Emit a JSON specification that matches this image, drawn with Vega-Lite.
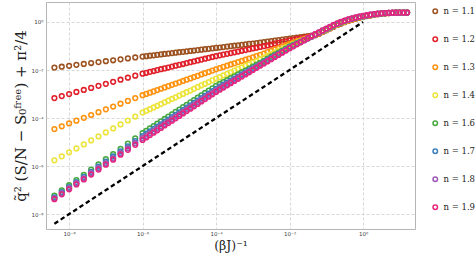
{
"$schema": "https://vega.github.io/schema/vega-lite/v6.json",
"width": 369, "height": 227,
"autosize": {"type": "none"},
"padding": {"left": 46, "top": 2, "right": 61, "bottom": 29},
"background": "white",
"config": {"view": {"stroke": "#b5b5b5", "strokeWidth": 1}},
"layer": [
{"data": {"values": [
{"x":3.98e-9,"n11":1.26e-2,"n12":6.76e-4,"n13":3.47e-5,"n14":1.74e-6,"n16":5.89e-8,"n17":5.01e-8,"n18":4.57e-8,"n19":4.17e-8},
{"x":6.31e-9,"n11":1.37e-2,"n12":8.22e-4,"n13":4.54e-5,"n14":2.55e-6,"n16":9.71e-8,"n17":8.17e-8,"n18":7.38e-8,"n19":6.70e-8},
{"x":1e-8,"n11":1.50e-2,"n12":1.00e-3,"n13":5.96e-5,"n14":3.73e-6,"n16":1.60e-7,"n17":1.33e-7,"n18":1.19e-7,"n19":1.08e-7},
{"x":1.58e-8,"n11":1.64e-2,"n12":1.22e-3,"n13":7.80e-5,"n14":5.46e-6,"n16":2.63e-7,"n17":2.17e-7,"n18":1.93e-7,"n19":1.73e-7},
{"x":2.51e-8,"n11":1.79e-2,"n12":1.48e-3,"n13":1.02e-4,"n14":8.00e-6,"n16":4.34e-7,"n17":3.55e-7,"n18":3.11e-7,"n19":2.77e-7},
{"x":3.98e-8,"n11":1.96e-2,"n12":1.80e-3,"n13":1.34e-4,"n14":1.17e-5,"n16":7.13e-7,"n17":5.78e-7,"n18":5.04e-7,"n19":4.46e-7},
{"x":6.31e-8,"n11":2.14e-2,"n12":2.19e-3,"n13":1.76e-4,"n14":1.72e-5,"n16":1.18e-6,"n17":9.44e-7,"n18":8.13e-7,"n19":7.16e-7},
{"x":1e-7,"n11":2.33e-2,"n12":2.66e-3,"n13":2.30e-4,"n14":2.52e-5,"n16":1.94e-6,"n17":1.54e-6,"n18":1.31e-6,"n19":1.15e-6},
{"x":1.58e-7,"n11":2.55e-2,"n12":3.24e-3,"n13":3.02e-4,"n14":3.69e-5,"n16":3.18e-6,"n17":2.51e-6,"n18":2.12e-6,"n19":1.85e-6},
{"x":2.51e-7,"n11":2.79e-2,"n12":3.94e-3,"n13":3.95e-4,"n14":5.40e-5,"n16":5.25e-6,"n17":4.09e-6,"n18":3.43e-6,"n19":2.97e-6},
{"x":3.98e-7,"n11":3.04e-2,"n12":4.79e-3,"n13":5.19e-4,"n14":7.91e-5,"n16":8.65e-6,"n17":6.68e-6,"n18":5.53e-6,"n19":4.76e-6},
{"x":6.31e-7,"n11":3.33e-2,"n12":5.82e-3,"n13":6.79e-4,"n14":1.16e-4,"n16":1.42e-5,"n17":1.09e-5,"n18":8.95e-6,"n19":7.66e-6},
{"x":1e-6,"n11":3.63e-2,"n12":7.08e-3,"n13":8.91e-4,"n14":1.70e-4,"n16":2.34e-5,"n17":1.78e-5,"n18":1.45e-5,"n19":1.23e-5},
{"x":1.26e-6,"n11":3.78e-2,"n12":7.69e-3,"n13":1.01e-3,"n14":2.00e-4,"n16":2.94e-5,"n17":2.23e-5,"n18":1.82e-5,"n19":1.55e-5},
{"x":1.58e-6,"n11":3.94e-2,"n12":8.38e-3,"n13":1.14e-3,"n14":2.35e-4,"n16":3.69e-5,"n17":2.80e-5,"n18":2.29e-5,"n19":1.95e-5},
{"x":2e-6,"n11":4.11e-2,"n12":9.10e-3,"n13":1.29e-3,"n14":2.76e-4,"n16":4.62e-5,"n17":3.51e-5,"n18":2.87e-5,"n19":2.46e-5},
{"x":2.51e-6,"n11":4.29e-2,"n12":9.91e-3,"n13":1.47e-3,"n14":3.25e-4,"n16":5.81e-5,"n17":4.41e-5,"n18":3.61e-5,"n19":3.09e-5},
{"x":3.16e-6,"n11":4.47e-2,"n12":1.08e-2,"n13":1.66e-3,"n14":3.82e-4,"n16":7.28e-5,"n17":5.52e-5,"n18":4.54e-5,"n19":3.89e-5},
{"x":3.98e-6,"n11":4.66e-2,"n12":1.17e-2,"n13":1.88e-3,"n14":4.50e-4,"n16":9.14e-5,"n17":6.93e-5,"n18":5.72e-5,"n19":4.90e-5},
{"x":5.01e-6,"n11":4.85e-2,"n12":1.27e-2,"n13":2.13e-3,"n14":5.28e-4,"n16":1.15e-4,"n17":8.69e-5,"n18":7.18e-5,"n19":6.17e-5},
{"x":6.31e-6,"n11":5.06e-2,"n12":1.39e-2,"n13":2.41e-3,"n14":6.22e-4,"n16":1.44e-4,"n17":1.09e-4,"n18":9.04e-5,"n19":7.76e-5},
{"x":7.94e-6,"n11":5.27e-2,"n12":1.51e-2,"n13":2.73e-3,"n14":7.31e-4,"n16":1.80e-4,"n17":1.37e-4,"n18":1.14e-4,"n19":9.77e-5},
{"x":1e-5,"n11":5.50e-2,"n12":1.64e-2,"n13":3.09e-3,"n14":8.61e-4,"n16":2.27e-4,"n17":1.72e-4,"n18":1.43e-4,"n19":1.23e-4},
{"x":1.26e-5,"n11":5.73e-2,"n12":1.78e-2,"n13":3.50e-3,"n14":1.01e-3,"n16":2.84e-4,"n17":2.15e-4,"n18":1.80e-4,"n19":1.55e-4},
{"x":1.58e-5,"n11":5.97e-2,"n12":1.94e-2,"n13":3.96e-3,"n14":1.19e-3,"n16":3.57e-4,"n17":2.70e-4,"n18":2.26e-4,"n19":1.95e-4},
{"x":2e-5,"n11":6.22e-2,"n12":2.11e-2,"n13":4.49e-3,"n14":1.40e-3,"n16":4.47e-4,"n17":3.39e-4,"n18":2.84e-4,"n19":2.46e-4},
{"x":2.51e-5,"n11":6.49e-2,"n12":2.30e-2,"n13":5.08e-3,"n14":1.65e-3,"n16":5.61e-4,"n17":4.26e-4,"n18":3.57e-4,"n19":3.09e-4},
{"x":3.16e-5,"n11":6.76e-2,"n12":2.50e-2,"n13":5.75e-3,"n14":1.94e-3,"n16":7.03e-4,"n17":5.33e-4,"n18":4.49e-4,"n19":3.89e-4},
{"x":3.98e-5,"n11":7.05e-2,"n12":2.72e-2,"n13":6.52e-3,"n14":2.28e-3,"n16":8.83e-4,"n17":6.70e-4,"n18":5.65e-4,"n19":4.90e-4},
{"x":5.01e-5,"n11":7.35e-2,"n12":2.95e-2,"n13":7.38e-3,"n14":2.68e-3,"n16":1.11e-3,"n17":8.40e-4,"n18":7.10e-4,"n19":6.17e-4},
{"x":6.31e-5,"n11":7.66e-2,"n12":3.21e-2,"n13":8.36e-3,"n14":3.16e-3,"n16":1.39e-3,"n17":1.05e-3,"n18":8.93e-4,"n19":7.76e-4},
{"x":7.94e-5,"n11":7.98e-2,"n12":3.49e-2,"n13":9.46e-3,"n14":3.71e-3,"n16":1.74e-3,"n17":1.32e-3,"n18":1.12e-3,"n19":9.77e-4},
{"x":1e-4,"n11":8.32e-2,"n12":3.80e-2,"n13":1.07e-2,"n14":4.37e-3,"n16":2.19e-3,"n17":1.66e-3,"n18":1.41e-3,"n19":1.23e-3},
{"x":1.26e-4,"n11":8.67e-2,"n12":4.09e-2,"n13":1.20e-2,"n14":5.09e-3,"n16":2.63e-3,"n17":2.02e-3,"n18":1.73e-3,"n19":1.52e-3},
{"x":1.58e-4,"n11":9.06e-2,"n12":4.40e-2,"n13":1.35e-2,"n14":5.93e-3,"n16":3.16e-3,"n17":2.46e-3,"n18":2.12e-3,"n19":1.87e-3},
{"x":2e-4,"n11":9.44e-2,"n12":4.73e-2,"n13":1.51e-2,"n14":6.92e-3,"n16":3.80e-3,"n17":2.99e-3,"n18":2.60e-3,"n19":2.30e-3},
{"x":2.51e-4,"n11":9.84e-2,"n12":5.09e-2,"n13":1.70e-2,"n14":8.07e-3,"n16":4.57e-3,"n17":3.63e-3,"n18":3.18e-3,"n19":2.84e-3},
{"x":3.16e-4,"n11":0.103,"n12":5.47e-2,"n13":1.91e-2,"n14":9.40e-3,"n16":5.50e-3,"n17":4.42e-3,"n18":3.91e-3,"n19":3.50e-3},
{"x":3.98e-4,"n11":0.107,"n12":5.89e-2,"n13":2.14e-2,"n14":1.10e-2,"n16":6.61e-3,"n17":5.37e-3,"n18":4.79e-3,"n19":4.32e-3},
{"x":5.01e-4,"n11":0.112,"n12":6.34e-2,"n13":2.40e-2,"n14":1.28e-2,"n16":7.94e-3,"n17":6.53e-3,"n18":5.86e-3,"n19":5.32e-3},
{"x":6.31e-4,"n11":0.117,"n12":6.81e-2,"n13":2.69e-2,"n14":1.49e-2,"n16":9.55e-3,"n17":7.94e-3,"n18":7.19e-3,"n19":6.56e-3},
{"x":7.94e-4,"n11":0.122,"n12":7.33e-2,"n13":3.02e-2,"n14":1.74e-2,"n16":1.15e-2,"n17":9.66e-3,"n18":8.81e-3,"n19":8.07e-3},
{"x":1e-3,"n11":0.127,"n12":7.89e-2,"n13":3.39e-2,"n14":2.03e-2,"n16":1.38e-2,"n17":1.18e-2,"n18":1.08e-2,"n19":9.95e-3},
{"x":1.26e-3,"n11":0.132,"n12":8.47e-2,"n13":3.80e-2,"n14":2.36e-2,"n16":1.66e-2,"n17":1.43e-2,"n18":1.32e-2,"n19":1.23e-2},
{"x":1.58e-3,"n11":0.138,"n12":9.12e-2,"n13":4.27e-2,"n14":2.75e-2,"n16":2.00e-2,"n17":1.74e-2,"n18":1.62e-2,"n19":1.51e-2},
{"x":2e-3,"n11":0.145,"n12":9.86e-2,"n13":4.86e-2,"n14":3.25e-2,"n16":2.43e-2,"n17":2.12e-2,"n18":1.99e-2,"n19":1.86e-2},
{"x":2.51e-3,"n11":0.152,"n12":0.106,"n13":5.56e-2,"n14":3.85e-2,"n16":2.95e-2,"n17":2.60e-2,"n18":2.44e-2,"n19":2.29e-2},
{"x":3.16e-3,"n11":0.160,"n12":0.115,"n13":6.34e-2,"n14":4.54e-2,"n16":3.59e-2,"n17":3.18e-2,"n18":2.99e-2,"n19":2.82e-2},
{"x":3.98e-3,"n11":0.168,"n12":0.125,"n13":7.24e-2,"n14":5.37e-2,"n16":4.37e-2,"n17":3.89e-2,"n18":3.67e-2,"n19":3.47e-2},
{"x":5.01e-3,"n11":0.176,"n12":0.135,"n13":8.26e-2,"n14":6.34e-2,"n16":5.31e-2,"n17":4.75e-2,"n18":4.51e-2,"n19":4.27e-2},
{"x":6.31e-3,"n11":0.185,"n12":0.145,"n13":9.44e-2,"n14":7.50e-2,"n16":6.46e-2,"n17":5.82e-2,"n18":5.52e-2,"n19":5.25e-2},
{"x":7.94e-3,"n11":0.195,"n12":0.157,"n13":0.108,"n14":8.85e-2,"n16":7.85e-2,"n17":7.11e-2,"n18":6.78e-2,"n19":6.46e-2},
{"x":1e-2,"n11":0.204,"n12":0.170,"n13":0.123,"n14":0.105,"n16":9.55e-2,"n17":8.71e-2,"n18":8.32e-2,"n19":7.94e-2},
{"x":1.26e-2,"n11":0.214,"n12":0.182,"n13":0.139,"n14":0.121,"n16":0.112,"n17":0.104,"n18":0.100,"n19":9.66e-2},
{"x":1.58e-2,"n11":0.224,"n12":0.196,"n13":0.156,"n14":0.139,"n16":0.131,"n17":0.124,"n18":0.120,"n19":0.118},
{"x":2e-2,"n11":0.234,"n12":0.210,"n13":0.176,"n14":0.160,"n16":0.153,"n17":0.147,"n18":0.145,"n19":0.143},
{"x":2.51e-2,"n11":0.246,"n12":0.225,"n13":0.198,"n14":0.185,"n16":0.179,"n17":0.175,"n18":0.174,"n19":0.174},
{"x":3.16e-2,"n11":0.257,"n12":0.242,"n13":0.223,"n14":0.213,"n16":0.210,"n17":0.208,"n18":0.209,"n19":0.211},
{"x":3.98e-2,"n11":0.269,"n12":0.260,"n13":0.251,"n14":0.246,"n16":0.246,"n17":0.248,"n18":0.251,"n19":0.257},
{"x":5.01e-2,"n11":0.282,"n12":0.286,"n13":0.290,"n14":0.294,"n16":0.298,"n17":0.301,"n18":0.306,"n19":0.309},
{"x":6.31e-2,"n11":0.324,"n12":0.330,"n13":0.337,"n14":0.344,"n16":0.352,"n17":0.358,"n18":0.365,"n19":0.372},
{"x":7.94e-2,"n11":0.380,"n12":0.389,"n13":0.399,"n14":0.408,"n16":0.419,"n17":0.428,"n18":0.438,"n19":0.447},
{"x":0.1,"n11":0.452,"n12":0.462,"n13":0.474,"n14":0.485,"n16":0.498,"n17":0.508,"n18":0.520,"n19":0.531},
{"x":0.126,"n11":0.537,"n12":0.550,"n13":0.564,"n14":0.577,"n16":0.592,"n17":0.604,"n18":0.618,"n19":0.631},
{"x":0.158,"n11":0.638,"n12":0.653,"n13":0.670,"n14":0.686,"n16":0.703,"n17":0.718,"n18":0.735,"n19":0.750},
{"x":0.2,"n11":0.750,"n12":0.767,"n13":0.787,"n14":0.805,"n16":0.826,"n17":0.843,"n18":0.863,"n19":0.881},
{"x":0.251,"n11":0.861,"n12":0.881,"n13":0.904,"n14":0.925,"n16":0.948,"n17":0.968,"n18":0.991,"n19":1.012},
{"x":0.316,"n11":0.982,"n12":1.005,"n13":1.028,"n14":1.054,"n16":1.079,"n17":1.102,"n18":1.125,"n19":1.148},
{"x":0.398,"n11":1.109,"n12":1.135,"n13":1.161,"n14":1.186,"n16":1.213,"n17":1.239,"n18":1.265,"n19":1.288},
{"x":0.501,"n11":1.230,"n12":1.256,"n13":1.282,"n14":1.309,"n16":1.337,"n17":1.361,"n18":1.387,"n19":1.413},
{"x":0.631,"n11":1.365,"n12":1.390,"n13":1.419,"n14":1.445,"n16":1.472,"n17":1.496,"n18":1.524,"n19":1.549},
{"x":0.794,"n11":1.496,"n12":1.524,"n13":1.549,"n14":1.578,"n16":1.603,"n17":1.629,"n18":1.656,"n19":1.679},
{"x":1,"n11":1.622,"n12":1.648,"n13":1.675,"n14":1.698,"n16":1.726,"n17":1.750,"n18":1.774,"n19":1.799},
{"x":1.26,"n11":1.758,"n12":1.782,"n13":1.807,"n14":1.832,"n16":1.858,"n17":1.879,"n18":1.905,"n19":1.928},
{"x":1.58,"n11":1.884,"n12":1.905,"n13":1.932,"n14":1.954,"n16":1.977,"n17":2.000,"n18":2.023,"n19":2.042},
{"x":2,"n11":1.995,"n12":2.018,"n13":2.037,"n14":2.061,"n16":2.080,"n17":2.099,"n18":2.118,"n19":2.138},
{"x":2.51,"n11":2.109,"n12":2.128,"n13":2.143,"n14":2.163,"n16":2.178,"n17":2.198,"n18":2.213,"n19":2.228},
{"x":3.16,"n11":2.208,"n12":2.223,"n13":2.234,"n14":2.249,"n16":2.265,"n17":2.275,"n18":2.291,"n19":2.301},
{"x":3.98,"n11":2.286,"n12":2.296,"n13":2.307,"n14":2.317,"n16":2.328,"n17":2.339,"n18":2.344,"n19":2.355},
{"x":5.01,"n11":2.355,"n12":2.360,"n13":2.366,"n14":2.377,"n16":2.382,"n17":2.388,"n18":2.393,"n19":2.399},
{"x":6.31,"n11":2.404,"n12":2.410,"n13":2.415,"n14":2.415,"n16":2.421,"n17":2.427,"n18":2.432,"n19":2.432},
{"x":7.94,"n11":2.438,"n12":2.438,"n13":2.443,"n14":2.443,"n16":2.443,"n17":2.449,"n18":2.449,"n19":2.449},
{"x":10,"n11":2.460,"n12":2.460,"n13":2.460,"n14":2.460,"n16":2.460,"n17":2.460,"n18":2.460,"n19":2.460},
{"x":12.6,"n11":2.466,"n12":2.466,"n13":2.466,"n14":2.466,"n16":2.466,"n17":2.466,"n18":2.466,"n19":2.466},
{"x":15.8,"n11":2.466,"n12":2.466,"n13":2.466,"n14":2.466,"n16":2.466,"n17":2.466,"n18":2.466,"n19":2.466}
]},
"transform": [{"fold": ["n11","n12","n13","n14","n16","n17","n18","n19"], "as": ["series","val"]}],
"mark": {"type": "point", "shape": "circle", "filled": false, "size": 22, "strokeWidth": 1.55, "opacity": 1},
"encoding": {
"x": {"field": "x", "type": "quantitative",
 "scale": {"type": "log", "domain": [2.35e-9, 26], "nice": false},
 "axis": {"values": [1e-8, 1e-6, 1e-4, 1e-2, 1],
  "labelExpr": "'10' + (datum.value < 0.5 ? '⁻' : '') + ['⁰','¹','²','³','⁴','⁵','⁶','⁷','⁸','⁹'][abs(round(log(datum.value)/LN10))]",
  "labelFont": "DejaVu Sans", "labelFontSize": 5.5, "labelColor": "#444", "labelPadding": 2,
  "grid": true, "gridDash": [3, 2], "gridColor": "#d2d2d2", "gridWidth": 0.9,
  "domain": false, "ticks": false,
  "title": "(βJ)⁻¹", "titleFont": "DejaVu Serif", "titleFontSize": 12.5, "titleFontWeight": "normal", "titleColor": "#222", "titlePadding": 3}},
"y": {"field": "val", "type": "quantitative",
 "scale": {"type": "log", "domain": [2.4e-9, 6.8], "nice": false},
 "axis": {"values": [1e-8, 1e-6, 1e-4, 1e-2, 1],
  "labelExpr": "'10' + (datum.value < 0.5 ? '⁻' : '') + ['⁰','¹','²','³','⁴','⁵','⁶','⁷','⁸','⁹'][abs(round(log(datum.value)/LN10))]",
  "labelFont": "DejaVu Sans", "labelFontSize": 5.5, "labelColor": "#444", "labelPadding": 3,
  "grid": true, "gridDash": [3, 2], "gridColor": "#d2d2d2", "gridWidth": 0.9,
  "domain": false, "ticks": false,
  "title": "q̃² (S/N − S₀ᶠʳᵉᵉ) + π²/4", "titleFont": "DejaVu Serif", "titleFontSize": 15, "titleFontWeight": "normal", "titleColor": "#222", "titlePadding": 2}},
"color": {"field": "series", "type": "nominal",
 "scale": {"domain": ["n11","n12","n13","n14","n16","n17","n18","n19"],
  "range": ["#9c5220","#e0202a","#ff930f","#ece43a","#46a83e","#3a7fbd","#9b59b6","#e6267e"]},
 "legend": {"orient": "none", "legendX": 385, "legendY": 5, "title": null, "padding": 0,
  "labelExpr": "'n = ' + substring(datum.label,1,2) + '.' + substring(datum.label,2,3)",
  "labelFont": "DejaVu Serif", "labelFontSize": 8.5, "labelColor": "#222", "labelOffset": 4,
  "symbolSize": 20, "symbolStrokeWidth": 1.5, "symbolType": "circle", "rowPadding": 17}},
"order": {"field": "series", "sort": "ascending"}
}},
{"data": {"values": [{"x": 3.98e-9, "val": 3.98e-9}, {"x": 1, "val": 1}]},
"mark": {"type": "line", "color": "black", "strokeDash": [4.5, 3], "strokeWidth": 2.3},
"encoding": {"x": {"field": "x", "type": "quantitative"}, "y": {"field": "val", "type": "quantitative"}}}
]
}
